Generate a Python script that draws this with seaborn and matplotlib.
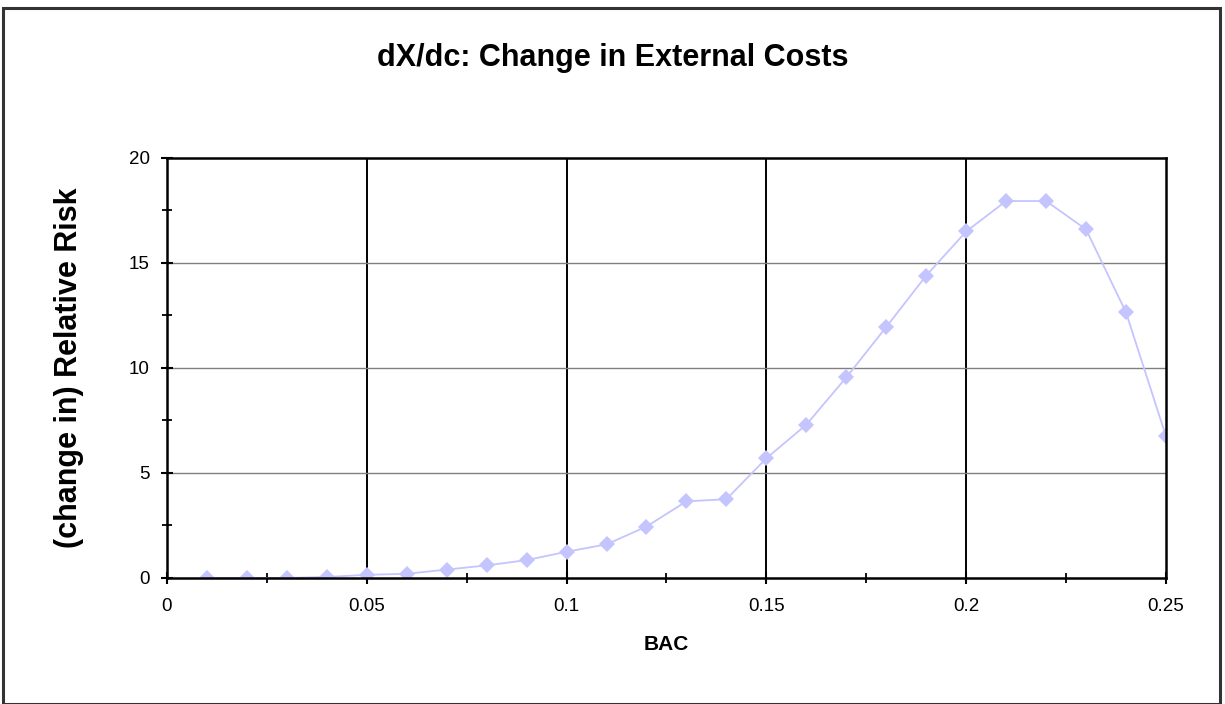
import numpy as np
import pandas as pd
import matplotlib
matplotlib.use("Agg")
import matplotlib.pyplot as plt
from matplotlib.patches import Rectangle
from matplotlib.ticker import MultipleLocator
import seaborn as sns

# valores
bac = [0.01, 0.02, 0.03, 0.04, 0.05, 0.06, 0.07, 0.08, 0.09, 0.10,
       0.11, 0.12, 0.13, 0.14, 0.15, 0.16, 0.17, 0.18, 0.19, 0.20,
       0.21, 0.22, 0.23, 0.24, 0.25]
risco = [0.0, 0.0, 0.0, 0.05, 0.15, 0.2, 0.4, 0.6, 0.85, 1.25,
         1.6, 2.45, 3.65, 3.75, 5.7, 7.3, 9.55, 11.95, 14.4, 16.5,
         17.95, 17.95, 16.6, 12.65, 6.75]

titulo = "dX/dc: Change in External Costs"
rotulo_x = "BAC"
rotulo_y = "(change in) Relative Risk"

df = pd.DataFrame({"BAC": bac, "Risco": risco})

sns.set_theme(style="white")
plt.rcParams["font.family"] = ["Liberation Sans", "DejaVu Sans"]

fig = plt.figure(figsize=(12.25, 7.04), dpi=100)
ax = fig.add_axes([0.1363, 0.179, 0.8155, 0.5966])

sns.lineplot(data=df, x="BAC", y="Risco", ax=ax, color="#c4c4ff",
             marker="D", markersize=8, markeredgewidth=0, linewidth=1.3)

ax.set_xlim(0, 0.25)
ax.set_ylim(0, 20)
ax.xaxis.set_minor_locator(MultipleLocator(0.025))
ax.yaxis.set_minor_locator(MultipleLocator(2.5))
ax.set_xticks([0, 0.05, 0.1, 0.15, 0.2, 0.25])
ax.set_xticklabels(["0", "0.05", "0.1", "0.15", "0.2", "0.25"])
ax.set_yticks([0, 5, 10, 15, 20])
ax.set_yticklabels(["0", "5", "10", "15", "20"])

for xv in [0.05, 0.1, 0.15, 0.2]:
    ax.axvline(xv, color="black", linewidth=1.4, zorder=0.5)
for yv in [5, 10, 15]:
    ax.axhline(yv, color="#808080", linewidth=1.0, zorder=0.5)

for s in ax.spines.values():
    s.set_color("black")
    s.set_linewidth(1.8)

ax.tick_params(axis="both", which="major", direction="inout", length=9,
               width=1.5, color="black", labelsize=13.5, labelcolor="black")
ax.tick_params(axis="both", which="minor", direction="inout", length=7,
               width=1.3, color="black")
ax.tick_params(axis="x", which="major", pad=10)
ax.tick_params(axis="y", which="major", pad=8)
ax.xaxis.set_ticks_position("bottom")
ax.yaxis.set_ticks_position("left")

ax.set_xlabel(rotulo_x, fontsize=15, fontweight="bold", labelpad=14, color="black")
ax.set_ylabel(rotulo_y, fontsize=22, fontweight="bold", labelpad=32, color="black")

fig.text(0.5, 0.918, titulo, ha="center", va="center", fontsize=22,
         fontweight="bold", color="black")

fig.patches.append(Rectangle((0.0025, 0.0), 0.9935, 0.9886, transform=fig.transFigure,
                             fill=False, edgecolor="#333333", linewidth=2.2))

plt.savefig("out.png", dpi=100)
plt.close()
